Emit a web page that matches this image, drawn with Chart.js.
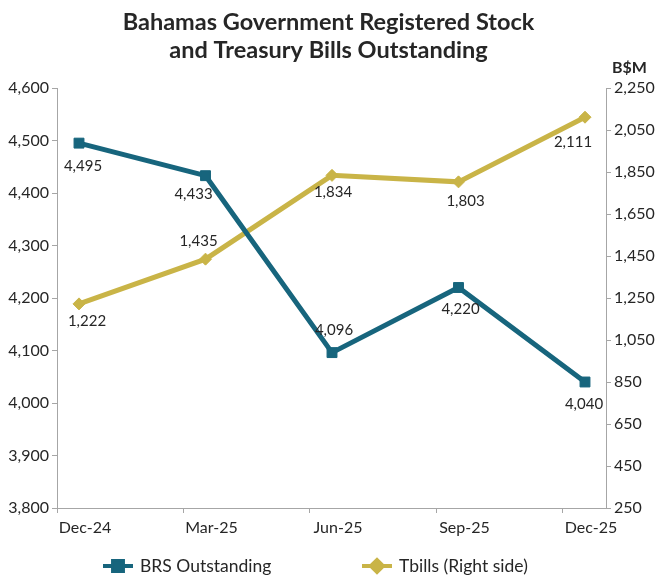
<!DOCTYPE html>
<html>
<head>
<meta charset="utf-8">
<script src="https://cdn.jsdelivr.net/npm/chart.js@4/dist/chart.umd.min.js"></script>
<style>
  html, body { margin: 0; padding: 0; background: #fff; }
  #wrap { width: 657px; height: 578px; }
</style>
</head>
<body>
<div id="wrap"><canvas id="chart"></canvas></div>
<script>
// values
const categories = ['Dec-24', 'Mar-25', 'Jun-25', 'Sep-25', 'Dec-25'];
const brsOutstanding = [4495, 4433, 4096, 4220, 4040];
const tbills = [1222, 1435, 1834, 1803, 2111];
const titleLines = ['Bahamas Government Registered Stock', 'and Treasury Bills Outstanding'];
const seriesNames = ['BRS Outstanding', 'Tbills (Right side)'];

const TEAL = '#17657d';
const GOLD = '#c9b447';
const AXIS = '#a6a6a6';
const TEXT = '#262626';
const FONT = 'Lato, "Source Sans Pro", sans-serif';

const fmt = v => Number(v).toLocaleString('en-US');

// where each value label sits relative to its point (px)
const labelOffsets = [
    [[4, 23], [-12, 18], [2, -22], [2, 22], [-1, 22]],
    [[8, 17], [-7, -18], [1, 17], [7, 19], [-12, 25]]
];

const X_SHIFT = 0.174;

const valueLabels = {
    id: 'valueLabels',
    afterDatasetsDraw(chart) {
        const ctx = chart.ctx;
        ctx.save();
        ctx.font = '15px ' + FONT;
        ctx.fillStyle = TEXT;
        ctx.textAlign = 'center';
        ctx.textBaseline = 'middle';
        chart.data.datasets.forEach((ds, di) => {
            chart.getDatasetMeta(di).data.forEach((pt, i) => {
                const off = labelOffsets[di][i];
                ctx.fillText(fmt(ds.data[i].y), pt.x + off[0], pt.y + off[1]);
            });
        });
        ctx.restore();
    }
};

const extras = {
    id: 'extras',
    afterDraw(chart) {
        const ctx = chart.ctx;
        ctx.save();
        // unit label above the right axis
        ctx.font = 'bold 16px ' + FONT;
        ctx.fillStyle = TEXT;
        ctx.textAlign = 'left';
        ctx.textBaseline = 'middle';
        ctx.fillText('B$M', 612, 68);

        // legend: line + marker, then name
        const starts = [103, 362];
        const y = 566;
        chart.data.datasets.forEach((ds, di) => {
            const x0 = starts[di];
            ctx.strokeStyle = ds.borderColor;
            ctx.lineWidth = 4;
            ctx.beginPath();
            ctx.moveTo(x0, y);
            ctx.lineTo(x0 + 30, y);
            ctx.stroke();
            Chart.helpers.drawPoint(ctx, {
                pointStyle: ds.pointStyle,
                radius: ds.pointRadius,
                borderWidth: 1
            }, x0 + 15, y);
            ctx.fillStyle = ds.borderColor;
            ctx.fill();
            ctx.fillStyle = TEXT;
            ctx.font = '17.5px ' + FONT;
            ctx.textAlign = 'left';
            ctx.textBaseline = 'middle';
            ctx.fillText(ds.label, x0 + 37, y);
        });
        ctx.restore();
    }
};

new Chart(document.getElementById('chart'), {
    type: 'line',
    data: {
        datasets: [{
            label: seriesNames[0],
            data: brsOutstanding.map((v, i) => ({ x: i, y: v })),
            yAxisID: 'y',
            borderColor: TEAL,
            backgroundColor: TEAL,
            borderWidth: 5,
            pointStyle: 'rect',
            pointRadius: 7,
            pointBorderWidth: 1,
            tension: 0
        }, {
            label: seriesNames[1],
            data: tbills.map((v, i) => ({ x: i, y: v })),
            yAxisID: 'y1',
            borderColor: GOLD,
            backgroundColor: GOLD,
            borderWidth: 5,
            pointStyle: 'rectRot',
            pointRadius: 6,
            pointBorderWidth: 1,
            tension: 0
        }]
    },
    options: {
        responsive: true,
        maintainAspectRatio: false,
        animation: false,
        layout: { padding: { top: 0, bottom: 40, left: 0, right: 0 } },
        scales: {
            x: {
                type: 'linear',
                min: -X_SHIFT,
                max: 4 + 0.166,
                afterBuildTicks: axis => {
                    axis.ticks = categories.map((c, i) => ({ value: i - X_SHIFT }));
                },
                afterFit: axis => { axis.height = 30; },
                grid: { drawOnChartArea: false, color: AXIS, tickLength: 5 },
                border: { color: AXIS, width: 1 },
                ticks: {
                    callback: (v, i) => categories[i],
                    labelOffset: 28,
                    padding: 5,
                    maxRotation: 0,
                    color: TEXT,
                    font: { family: FONT, size: 16 }
                }
            },
            y: {
                position: 'left',
                min: 3800,
                max: 4600,
                afterFit: axis => { axis.width = 57; },
                grid: { drawOnChartArea: false, color: AXIS, tickLength: 5 },
                border: { color: AXIS, width: 1 },
                ticks: {
                    stepSize: 100,
                    padding: 3,
                    color: TEXT,
                    font: { family: FONT, size: 16 },
                    callback: v => fmt(v)
                }
            },
            y1: {
                position: 'right',
                min: 250,
                max: 2250,
                afterFit: axis => { axis.width = 51; },
                grid: { drawOnChartArea: false, color: AXIS, tickLength: 5 },
                border: { color: AXIS, width: 1 },
                ticks: {
                    stepSize: 200,
                    padding: 3,
                    color: TEXT,
                    font: { family: FONT, size: 16 },
                    callback: v => fmt(v)
                }
            }
        },
        plugins: {
            legend: { display: false },
            tooltip: { enabled: false },
            title: {
                display: true,
                text: titleLines,
                color: TEXT,
                font: { family: FONT, size: 23.5, weight: 'bold', lineHeight: 1.2 },
                padding: { top: 8, bottom: 23.6 }
            }
        }
    },
    plugins: [valueLabels, extras]
});
</script>
</body>
</html>
